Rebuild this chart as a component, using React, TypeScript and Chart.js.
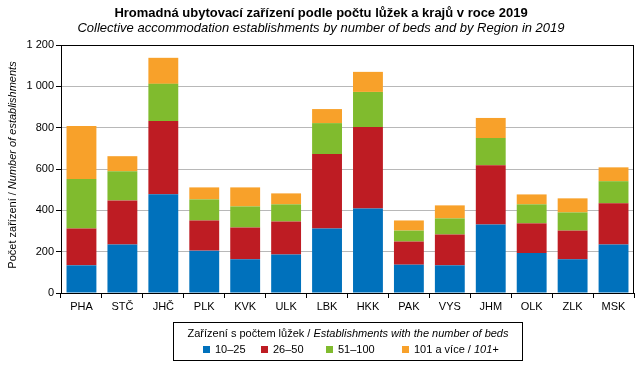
import React, { useEffect, useRef } from "react";
import { Chart, registerables } from "chart.js";

Chart.register(...registerables);

const categories = ["PHA", "STČ", "JHČ", "PLK", "KVK", "ULK", "LBK", "HKK", "PAK", "VYS", "JHM", "OLK", "ZLK", "MSK"];
const beds10to25 = [134, 235, 478, 205, 163, 186, 312, 409, 137, 134, 332, 193, 163, 235];
const beds26to50 = [178, 213, 354, 146, 154, 160, 360, 394, 112, 149, 286, 144, 139, 199];
const beds51to100 = [240, 141, 180, 102, 102, 83, 150, 170, 53, 78, 132, 92, 88, 107];
const beds101plus = [256, 73, 126, 58, 92, 53, 68, 97, 49, 63, 97, 48, 68, 67];
const seriesLabels = ["10–25", "26–50", "51–100", "101 a více / 101+"];
const seriesColors = ["#0071BC", "#BE1C23", "#80BB2E", "#F8A12A"];
const yTickValues = [0, 200, 400, 600, 800, 1000, 1200];

const titleText = "Hromadná ubytovací zařízení podle počtu lůžek a krajů v roce 2019";
const subtitleText = "Collective accommodation establishments by number of beds and by Region in 2019";
const yTitleCz = "Počet zařízení / ";
const yTitleEn = "Number of establishments";
const legendTitleCz = "Zařízení s počtem lůžek / ";
const legendTitleEn = "Establishments with the number of beds";

const FONT = "'Liberation Sans', Arial, sans-serif";

type Part = { text: string; italic?: boolean; bold?: boolean };

function fontOf(p: Part, size: number) {
  return `${p.italic ? "italic " : ""}${p.bold ? "bold " : ""}${size}px ${FONT}`;
}

function drawParts(ctx: CanvasRenderingContext2D, parts: Part[], x: number, y: number, size: number, align: "left" | "center") {
  let total = 0;
  const widths = parts.map((p) => {
    ctx.font = fontOf(p, size);
    const w = ctx.measureText(p.text).width;
    total += w;
    return w;
  });
  let cx = align === "center" ? x - total / 2 : x;
  ctx.textAlign = "left";
  ctx.textBaseline = "middle";
  parts.forEach((p, i) => {
    ctx.font = fontOf(p, size);
    ctx.fillText(p.text, cx, y);
    cx += widths[i];
  });
  return total;
}

function splitLabel(label: string): Part[] {
  const idx = label.indexOf(" / ");
  if (idx < 0) return [{ text: label }];
  return [{ text: label.slice(0, idx + 3) }, { text: label.slice(idx + 3), italic: true }];
}

const decorPlugin = {
  id: "decor",
  afterDraw(chart: any) {
    const ctx: CanvasRenderingContext2D = chart.ctx;
    const a = chart.chartArea;
    ctx.save();
    // plot border
    ctx.strokeStyle = "#000";
    ctx.lineWidth = 1;
    ctx.strokeRect(Math.round(a.left) + 0.5, Math.round(a.top) + 0.5, Math.round(a.right - a.left) - 1, Math.round(a.bottom - a.top));
    ctx.fillStyle = "#000";
    // titles
    drawParts(ctx, [{ text: titleText, bold: true }], 321, 13, 13, "center");
    drawParts(ctx, [{ text: subtitleText, italic: true }], 321, 28, 13, "center");
    // y title
    ctx.save();
    ctx.translate(13, (a.top + a.bottom) / 2 - 4);
    ctx.rotate(-Math.PI / 2);
    drawParts(ctx, [{ text: yTitleCz }, { text: yTitleEn, italic: true }], 0, 0, 11, "center");
    ctx.restore();
    // legend box
    ctx.strokeStyle = "#000";
    ctx.strokeRect(173.5, 322.5, 349, 38);
    ctx.fillStyle = "#000";
    drawParts(ctx, [{ text: legendTitleCz }, { text: legendTitleEn, italic: true }], 348, 334, 11, "center");
    const itemX = [203, 261, 326, 402];
    seriesLabels.forEach((lab, i) => {
      ctx.fillStyle = seriesColors[i];
      ctx.fillRect(itemX[i], 346, 7, 7);
      ctx.fillStyle = "#000";
      drawParts(ctx, splitLabel(lab), itemX[i] + 12, 350, 11, "left");
    });
    ctx.restore();
  },
};

export default function App() {
  const ref = useRef<HTMLCanvasElement>(null);
  useEffect(() => {
    document.body.style.margin = "0";
    const canvas = ref.current!;
    const series = [beds10to25, beds26to50, beds51to100, beds101plus];
    const chart = new Chart(canvas, {
      type: "bar",
      data: {
        labels: categories,
        datasets: series.map((d, i) => ({
          label: seriesLabels[i],
          data: d,
          backgroundColor: seriesColors[i],
          borderWidth: 0,
          barPercentage: 0.73,
          categoryPercentage: 1,
        })),
      },
      options: {
        responsive: false,
        animation: false,
        devicePixelRatio: 1,
        layout: { padding: { left: 0, right: 9, top: 45, bottom: 53 } },
        plugins: { legend: { display: false }, tooltip: { enabled: false }, title: { display: false } },
        scales: {
          x: {
            stacked: true,
            grid: { offset: true, drawOnChartArea: false, tickLength: 5, tickColor: "#000", color: "#000" },
            border: { color: "#000" },
            ticks: { color: "#000", font: { family: FONT, size: 11 }, padding: 2, maxRotation: 0 },
            afterFit: (s: any) => { s.height = 20; },
          },
          y: {
            stacked: true,
            min: 0,
            max: 1200,
            afterBuildTicks: (s: any) => { s.ticks = yTickValues.map((v) => ({ value: v })); },
            grid: { color: "#B8B8B8", tickLength: 5, tickColor: "#000" },
            border: { color: "#000" },
            ticks: {
              color: "#000",
              font: { family: FONT, size: 11 },
              padding: 2,
              callback: (v: any) => String(v).replace(/\B(?=(\d{3})+(?!\d))/g, " "),
            },
            afterFit: (s: any) => { s.width = 61; },
          },
        },
      },
      plugins: [decorPlugin],
    });
    return () => chart.destroy();
  }, []);
  return (
    <div style={{ position: "fixed", left: 0, top: 0, width: 643, height: 366, background: "#fff" }}>
      <canvas ref={ref} width={643} height={366} style={{ width: 643, height: 366 }} />
    </div>
  );
}
